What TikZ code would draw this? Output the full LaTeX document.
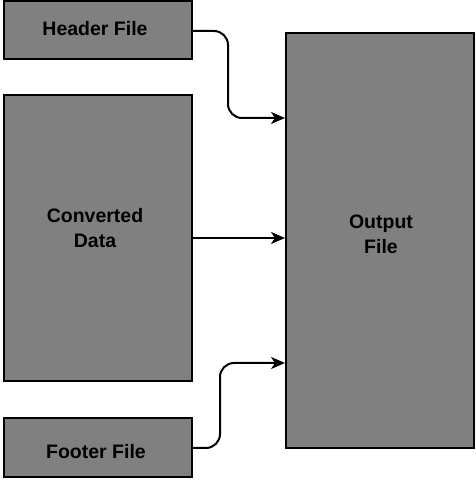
\documentclass[tikz,border=0pt]{standalone}
\usepackage{fontspec}
\setmainfont{Liberation Sans}
\usetikzlibrary{arrows.meta}
\begin{document}
\begin{tikzpicture}[x=1pt,y=1pt,
  box/.style={draw=black,line width=2pt,fill=black!50,inner sep=0pt,anchor=south west},
  lbl/.style={font=\bfseries\fontsize{19.5}{25}\selectfont,align=center,text=black},
  conn/.style={draw=black,line width=2pt,-{Stealth[length=14pt,width=12pt,inset=4pt]},rounded corners=14pt}]
\useasboundingbox (0,0) rectangle (476,480);
\node[box,minimum width=188pt,minimum height=58pt] (hdr) at (3,420) {};
\node[box,minimum width=188pt,minimum height=286pt] (conv) at (3,98) {};
\node[box,minimum width=188pt,minimum height=59pt] (ftr) at (3,2) {};
\node[box,minimum width=188pt,minimum height=415pt] (out) at (285,31) {};
\node[lbl] (thdr) at (95,451) {Header File};
\node[lbl] (tconv) at (95,252) {Converted\\Data};
\node[lbl] (tftr) at (96,28) {Footer File};
\node[lbl] (tout) at (381,246) {Output\\File};
\coordinate (a1) at (228,449);
\coordinate (a2) at (228,362);
\coordinate (b1) at (220,32);
\coordinate (b2) at (220,117);
\draw[conn] (hdr.east |- a1) -- (a1) -- (a2) -- (out.west |- a2);
\draw[conn] (conv.east |- 0,242) -- (out.west |- 0,242);
\draw[conn] (ftr.east |- b1) -- (b1) -- (b2) -- (out.west |- b2);
\end{tikzpicture}
\end{document}
